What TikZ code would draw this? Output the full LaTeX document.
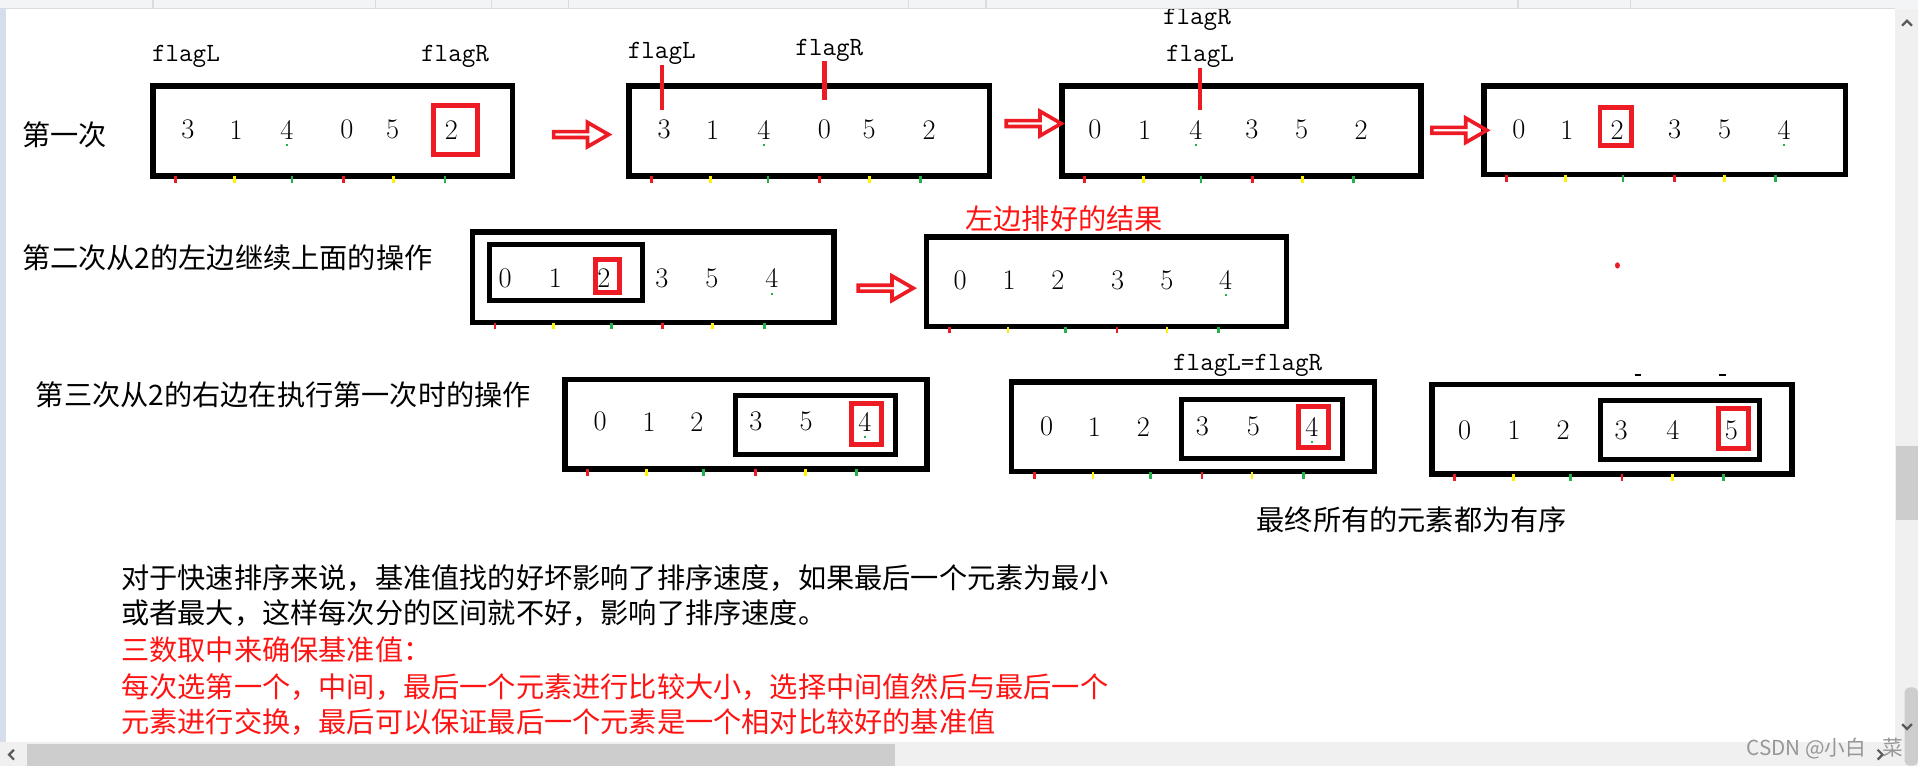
\documentclass[tikz,border=0pt]{standalone}
\usepackage{fontspec}
\newfontfamily\cjk{Noto Sans CJK SC}
\usetikzlibrary{positioning,fit,shapes.arrows}
\definecolor{PaintRed}{RGB}{237,28,36}
\definecolor{PaintYellow}{RGB}{255,242,0}
\definecolor{PaintGreen}{RGB}{34,177,76}
\definecolor{TextRed}{RGB}{255,20,20}
\definecolor{ChromeGray}{RGB}{240,240,240}
\definecolor{ThumbGray}{RGB}{205,205,205}
\definecolor{TabGray}{RGB}{243,244,246}
\definecolor{LineGray}{RGB}{218,220,224}
\definecolor{SideBlue}{RGB}{214,222,236}
\definecolor{MarkGray}{RGB}{150,150,150}
\definecolor{ArrowGray}{RGB}{90,90,90}

\begin{document}
\begin{tikzpicture}[
    x=0.25mm, y=-0.25mm,
    arr/.style={draw, line width=1.125mm, inner sep=0pt},
    sub/.style={draw, line width=1mm, inner sep=0pt},
    pivot/.style={draw=PaintRed, line width=1mm, inner sep=0pt},
    num/.style={font=\fontsize{16.5}{18}\selectfont, inner sep=2mm},
    flag/.style={font=\ttfamily\fontsize{15.3}{17}\selectfont, inner sep=0pt, anchor=base},
    note/.style={font=\cjk\fontsize{16.4}{20}\selectfont, inner sep=0pt, anchor=west},
    flagline/.style={draw=PaintRed, line width=0.9mm},
    tickmark/.style={draw=#1, line width=0.55mm},
    fwd/.style={
        single arrow,
        draw=PaintRed,
        line width=0.75mm,
        inner sep=0pt,
        minimum height=11.25mm,
        minimum width=5mm,
        single arrow head extend=1.2mm,
        single arrow tip angle=60
    },
    chevron/.style={draw=ArrowGray, line width=0.45mm}
]
\useasboundingbox (0,0) rectangle (1568,626);
\fill[white] (0,0) rectangle (1568,626);

% first pass
\node[note] (lab1) at (18,110.4) {第一次};

\node[arr, fit={(125.2,70.2) (418.8,143.8)}] (b1) {};
\foreach \v/\x in {3/153.5,1/193,4/234.6,0/283.6,5/321,2/369}
    \node[num] (b1-\v) at (\x,106) {\v};
\node[pivot, fit={(354.7,86) (390,126)}] (p1) {};
\node[flag] (f1L) at (152,50.4) {flagL};
\node[flag] (f1R) at (372,50.4) {flagR};

\node[arr, fit={(514.2,70.2) (808.8,143.8)}] (b2) {};
\foreach \v/\x in {3/543,1/582.5,4/624.4,0/674,5/710.5,2/759.5}
    \node[num] (b2-\v) at (\x,106) {\v};
\node[flag] (f2L) at (541,47.7) {flagL};
\node[flag] (f2R) at (678,45) {flagR};
\draw[flagline] (f2L.south) -- (f2L.south |- b2-3.north);
\draw[flagline, shorten >=2mm] (f2R.south -| b2-0.north) -- (b2-0.north);

\node[arr, fit={(868.2,70.2) (1161.8,143.8)}] (b3) {};
\foreach \v/\x in {0/895,1/935.7,4/977.7,3/1023.4,5/1064,2/1112.7}
    \node[num] (b3-\v) at (\x,106) {\v};
\node[flag] (f3R) at (978.5,20.4) {flagR};
\node[flag] (f3L) at (981,50.5) {flagL};
\draw[flagline] (f3L.south) -- (f3L.south |- b3-4.north);

\node[arr, fit={(1213.2,70.2) (1508.8,142.8)}] (b4) {};
\foreach \v/\x in {0/1241.7,1/1281,2/1322,3/1369,5/1410,4/1458.5}
    \node[num] (b4-\v) at (\x,106) {\v};
\node[pivot, fit={(1308,88) (1334,119)}] (p4) {};

\node[fwd] (a1) at (473,110) {};
\node[fwd] (a2) at (843,101) {};
\node[fwd] (a3) at (1191,106.5) {};

% second pass
\node[note] (lab2) at (17.8,211) {第二次从2的左边继续上面的操作};

\node[arr, fit={(386.2,189.7) (681.8,263.6)}] (b5) {};
\node[sub, fit={(400,199.6) (525,246)}] (s5) {};
\foreach \v/\x in {0/413,1/454,2/493.7,3/541,5/582,4/631}
    \node[num] (b5-\v) at (\x,227.5) {\v};
\node[pivot, fit={(486.8,212) (506.3,239)}] (p5) {};

\node[fwd] (a4) at (722,235.6) {};

\node[note, text=TextRed] (res) at (789,178.5) {左边排好的结果};
\node[arr, fit={(757.6,193.7) (1051.8,266.8)}] (b6) {};
\foreach \v/\x in {0/785,1/825,2/864.8,3/913.6,5/954,4/1002}
    \node[num] (b6-\v) at (\x,229) {\v};
\fill[PaintRed] (1322.3,217) ellipse [x radius=0.5mm, y radius=0.65mm];

% third pass
\node[note] (lab3) at (29,322.5) {第三次从2的右边在执行第一次时的操作};

\node[arr, fit={(461.8,310.2) (757.8,383.4)}] (b7) {};
\node[sub, fit={(601,323.5) (732,371.8)}] (s7) {};
\foreach \v/\x in {0/490.6,1/530.7,2/569.8,3/618,5/659,4/707}
    \node[num] (b7-\v) at (\x,344.7) {\v};
\node[pivot, fit={(696.4,330) (720.8,363.6)}] (p7) {};

\node[flag] (f8) at (1020,302.5) {flagL=flagR};
\node[arr, fit={(827,312.2) (1123.6,385.6)}] (b8) {};
\node[sub, fit={(965.6,326.3) (1097.4,374.6)}] (s8) {};
\foreach \v/\x in {0/855.7,1/894.7,2/934.7,3/983,5/1024.6,4/1072.5}
    \node[num] (b8-\v) at (\x,348.8) {\v};
\node[pivot, fit={(1061.5,332.5) (1086,366)}] (p8) {};

\node[arr, fit={(1170.5,314.2) (1464.8,387.5)}] (b9) {};
\node[sub, fit={(1308.7,327.6) (1438.5,376)}] (s9) {};
\foreach \v/\x in {0/1197.4,1/1237.8,2/1277.8,3/1325.3,4/1367.6,5/1415.5}
    \node[num] (b9-\v) at (\x,351.5) {\v};
\node[pivot, fit={(1404.6,333.7) (1429.5,367)}] (p9) {};
\draw[line width=0.3mm] (1336.3,306.6) -- ++(5.5,0);
\draw[line width=0.3mm] (1405.3,306.6) -- ++(5.5,0);

\node[note] (fin) at (1027,425) {最终所有的元素都为有序};

% colour ticks on the bottom edges, dots under the 4s
\foreach \i in {1,...,9}
    \foreach \d/\c in {23/PaintRed,71/PaintYellow,118/PaintGreen,160/PaintRed,201/PaintYellow,243/PaintGreen}
        \draw[tickmark=\c] ([shift={(\d-2.2,-2)}]b\i.south west) -- ++(0,5.4);
\foreach \n in {b1-4,b2-4,b3-4,b4-4,b5-4,b6-4,b7-4,b8-4}
    \fill[PaintGreen] ([shift={(-0.8,11.7)}]\n.center) rectangle ++(1.6,1.6);

% notes below
\node[note] (t1) at (98.8,472.7) {对于快速排序来说，基准值找的好坏影响了排序速度，如果最后一个元素为最小};
\node[note] (t2) at (98.8,501.3) {或者最大，这样每次分的区间就不好，影响了排序速度。};
\node[note, text=TextRed] (t3) at (98.8,531.4) {三数取中来确保基准值：};
\node[note, text=TextRed] (t4) at (98.8,561.4) {每次选第一个，中间，最后一个元素进行比较大小，选择中间值然后与最后一个};
\node[note, text=TextRed] (t5) at (98.8,590) {元素进行交换，最后可以保证最后一个元素是一个相对比较好的基准值};

% window chrome
\fill[TabGray] (0,0) rectangle (1568,7);
\draw[LineGray, line width=0.25mm] (0,7) -- (1549,7);
\foreach \x in {125,307,402,465,743,806,1241,1333}
    \draw[LineGray, line width=0.25mm] (\x,0) -- (\x,7);
\fill[SideBlue] (0,7) rectangle (5,607);
\fill[ChromeGray] (1549,7) rectangle (1568,626);
\fill[ThumbGray] (1550,365) rectangle (1568,425);
\fill[ChromeGray] (0,607) rectangle (1549,626);
\fill[ThumbGray] (22,608) rectangle (732,626);
\fill[ThumbGray, rounded corners=1mm] (1557,562) rectangle (1568,626);
\draw[chevron] (1555,21) -- (1559,17) -- (1563,21);
\draw[chevron] (1555,592) -- (1559,596) -- (1563,592);
\draw[chevron] (11.4,613) -- (7.4,617) -- (11.4,621);
\draw[chevron] (1535,613) -- (1539,617) -- (1535,621);
\node[font=\cjk\fontsize{12}{14}\selectfont, text=MarkGray, inner sep=0pt, anchor=east] (wm) at (1556,612) {CSDN @小白\hspace{0.8em}菜};

\end{tikzpicture}
\end{document}
